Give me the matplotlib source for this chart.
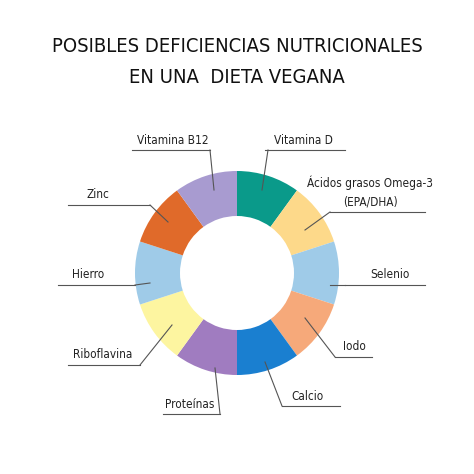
import matplotlib
matplotlib.use("Agg")
import matplotlib.pyplot as plt

labels = ["Vitamina D", "Ácidos grasos Omega-3\n(EPA/DHA)", "Selenio", "Iodo", "Calcio",
          "Proteínas", "Riboflavina", "Hierro", "Zinc", "Vitamina B12"]
values = [1, 1, 1, 1, 1, 1, 1, 1, 1, 1]
colors = ["#0a9a8a", "#fdd98a", "#9fcbe8", "#f6a97a", "#1a7fd0",
          "#a07cc0", "#fdf5a0", "#9fcbe8", "#e06a2a", "#a89bd0"]

# label text pos (px), underline x-range, underline y, leader start, leader end (px)
layout = [
    ((303, 140), (265, 345), 150, (268, 150), (262, 190)),
    ((370, 192), (330, 425), 212, (330, 212), (305, 230)),
    ((390, 274), (345, 425), 285, (345, 285), (330, 285)),
    ((354, 347), (335, 372), 357, (335, 357), (305, 318)),
    ((308, 396), (282, 340), 406, (282, 406), (265, 362)),
    ((190, 404), (163, 220), 414, (220, 414), (215, 368)),
    ((103, 355), (68, 140), 365, (140, 365), (172, 325)),
    ((88, 274), (58, 135), 285, (135, 285), (150, 283)),
    ((98, 194), (68, 150), 205, (150, 205), (168, 222)),
    ((173, 140), (132, 210), 150, (210, 150), (214, 190)),
]

H = 474
fig = plt.figure(figsize=(4.74, 4.74), dpi=100)
ax = fig.add_axes([0, 0, 1, 1])

ax.pie(values, colors=colors, startangle=90, counterclock=False,
       center=(237, H - 273), radius=102, wedgeprops=dict(width=45, linewidth=0), frame=True)
ax.set_xlim(0, 474); ax.set_ylim(0, 474); ax.set_aspect("equal"); ax.axis("off")

for lab, (tp, ur, uy, a, b) in zip(labels, layout):
    ax.text(tp[0], H - tp[1], lab, ha="center", va="center", fontsize=8.5,
            color="#222222", fontstretch="condensed", linespacing=1.6)
    ax.plot(ur, [H - uy, H - uy], color="#555555", lw=0.8)
    ax.plot([a[0], b[0]], [H - a[1], H - b[1]], color="#555555", lw=0.8)

ax.text(237, H - 46, "POSIBLES DEFICIENCIAS NUTRICIONALES", ha="center", va="center",
        fontsize=14.5, color="#111111", fontstretch="condensed")
ax.text(237, H - 77, "EN UNA  DIETA VEGANA", ha="center", va="center",
        fontsize=14.5, color="#111111", fontstretch="condensed")

fig.savefig("out.png", dpi=100, facecolor="white")
